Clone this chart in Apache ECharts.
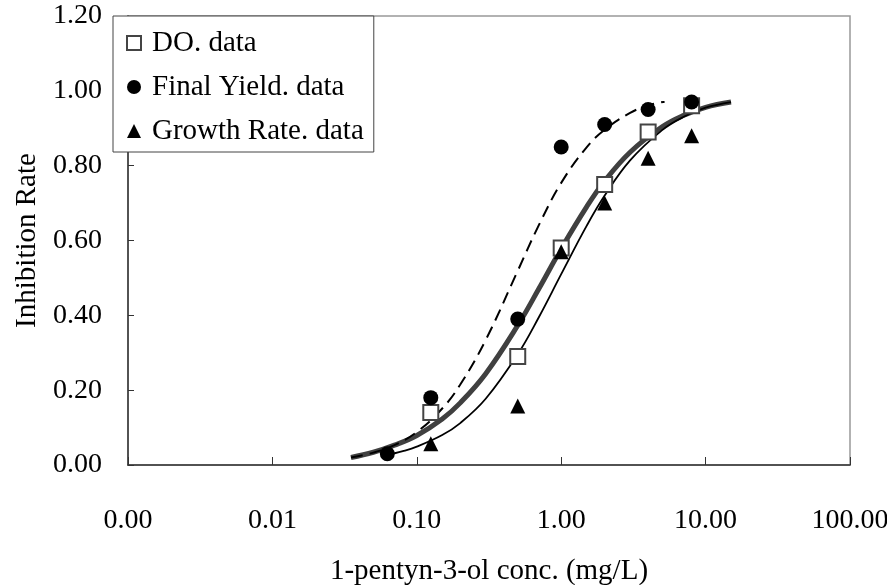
<!DOCTYPE html>
<html>
<head>
<meta charset="utf-8">
<script src="https://cdn.jsdelivr.net/npm/echarts@6/dist/echarts.min.js"></script>
<style>
html,body{margin:0;padding:0;background:#fff;}
#chart{width:887px;height:585px;}
</style>
</head>
<body>
<div id="chart"></div>
<script>
// Measured data points
const concDO = [0.125, 0.5, 1, 2, 4, 8];
const doData = [0.14, 0.29, 0.58, 0.75, 0.89, 0.96];
const concFY = [0.0625, 0.125, 0.5, 1, 2, 4, 8];
const fyData = [0.03, 0.18, 0.39, 0.85, 0.91, 0.95, 0.97];
const concGR = [0.125, 0.5, 1, 2, 4, 8];
const grData = [0.057, 0.158, 0.57, 0.70, 0.82, 0.88];

// Fitted curves
const doCurveX = [0.035,0.05,0.07,0.1,0.15,0.2,0.3,0.5,0.7,1,1.5,2,3,5,7,10,15];
const doCurveY = [0.020,0.034,0.053,0.079,0.123,0.166,0.244,0.373,0.471,0.578,0.690,0.759,0.836,0.904,0.934,0.956,0.970];
const fyCurveX = [0.035,0.05,0.07,0.1,0.15,0.2,0.3,0.5,0.7,1,1.5,2,3,4,5.2];
const fyCurveY = [0.020,0.033,0.053,0.088,0.151,0.215,0.334,0.519,0.641,0.754,0.849,0.896,0.941,0.961,0.971];
const grCurveX = [0.06,0.08,0.1,0.15,0.2,0.3,0.5,0.7,1,1.5,2,3,5,7,10,15];
const grCurveY = [0.025,0.037,0.049,0.080,0.112,0.177,0.296,0.395,0.510,0.639,0.720,0.814,0.895,0.930,0.955,0.970];

const yTicks = ['0.00','0.20','0.40','0.60','0.80','1.00','1.20'];

const FONT = "'Liberation Serif','Times New Roman',serif";
const zip = (xs, ys) => xs.map((x, i) => [x, ys[i]]);

const chart = echarts.init(document.getElementById('chart'), null, {renderer: 'canvas'});
chart.setOption({
  animation: false,
  backgroundColor: '#fff',
  textStyle: {fontFamily: FONT, color: '#000'},
  grid: {left: 128, right: 37, top: 16, bottom: 120, show: true, borderColor: '#999', borderWidth: 1.5,
         containLabel: false, outerBoundsMode: 'none'},
  legend: {
    data: ['DO. data', 'Final Yield. data', 'Growth Rate. data'],
    orient: 'vertical', left: 113, top: 16,
    padding: [12, 10, 6, 13],
    itemGap: 14, itemWidth: 14, itemHeight: 14,
    backgroundColor: '#fff', borderColor: '#444', borderWidth: 1,
    selectedMode: false,
    textStyle: {fontFamily: FONT, fontSize: 29, color: '#000', lineHeight: 30, padding: [0, 0, 0, 6]},
    z: 10
  },
  xAxis: {
    type: 'log', logBase: 10, min: 0.001, max: 100,
    name: '1-pentyn-3-ol conc. (mg/L)', nameLocation: 'middle', nameGap: 92,
    nameTextStyle: {fontFamily: FONT, fontSize: 29, color: '#000'},
    axisLine: {show: true, lineStyle: {color: '#333', width: 1.5}},
    axisTick: {show: true, inside: true, length: 8, lineStyle: {color: '#333', width: 1}},
    axisLabel: {fontFamily: FONT, fontSize: 28, color: '#000', margin: 42, formatter: v => v.toFixed(2), showMinLabel: true, showMaxLabel: true},
    splitLine: {show: false},
    minorTick: {show: false}
  },
  yAxis: {
    type: 'value', min: 0, max: 1.2, interval: 0.2,
    name: 'Inhibition Rate', nameLocation: 'middle', nameGap: 84, nameRotate: 90,
    nameTextStyle: {fontFamily: FONT, fontSize: 29, color: '#000'},
    axisLine: {show: true, lineStyle: {color: '#333', width: 1.5}},
    axisTick: {show: true, inside: true, length: 6, lineStyle: {color: '#333', width: 1}},
    axisLabel: {fontFamily: FONT, fontSize: 28, color: '#000', margin: 26, formatter: (v) => yTicks[Math.round(v / 0.2)]},
    splitLine: {show: false}
  },
  series: [
    {name: 'DO. fit', type: 'line', data: zip(doCurveX, doCurveY), showSymbol: false, symbol: 'none', smooth: 0.4,
     lineStyle: {color: '#404040', width: 5}, z: 2},
    {name: 'Final Yield. fit', type: 'line', data: zip(fyCurveX, fyCurveY), showSymbol: false, symbol: 'none', smooth: 0.4,
     lineStyle: {color: '#000', width: 2, type: [12, 7]}, z: 2},
    {name: 'Growth Rate. fit', type: 'line', data: zip(grCurveX, grCurveY), showSymbol: false, symbol: 'none', smooth: 0.4,
     lineStyle: {color: '#000', width: 1.8}, z: 2},
    {name: 'DO. data', type: 'scatter', data: zip(concDO, doData), symbol: 'rect', symbolSize: 15,
     itemStyle: {color: '#fff', borderColor: '#444', borderWidth: 2, opacity: 1}, z: 3},
    {name: 'Final Yield. data', type: 'scatter', data: zip(concFY, fyData), symbol: 'circle', symbolSize: 15,
     itemStyle: {color: '#000', opacity: 1}, z: 4},
    {name: 'Growth Rate. data', type: 'scatter', data: zip(concGR, grData), symbol: 'triangle', symbolSize: 15,
     itemStyle: {color: '#000', opacity: 1}, z: 5}
  ]
});
</script>
</body>
</html>
